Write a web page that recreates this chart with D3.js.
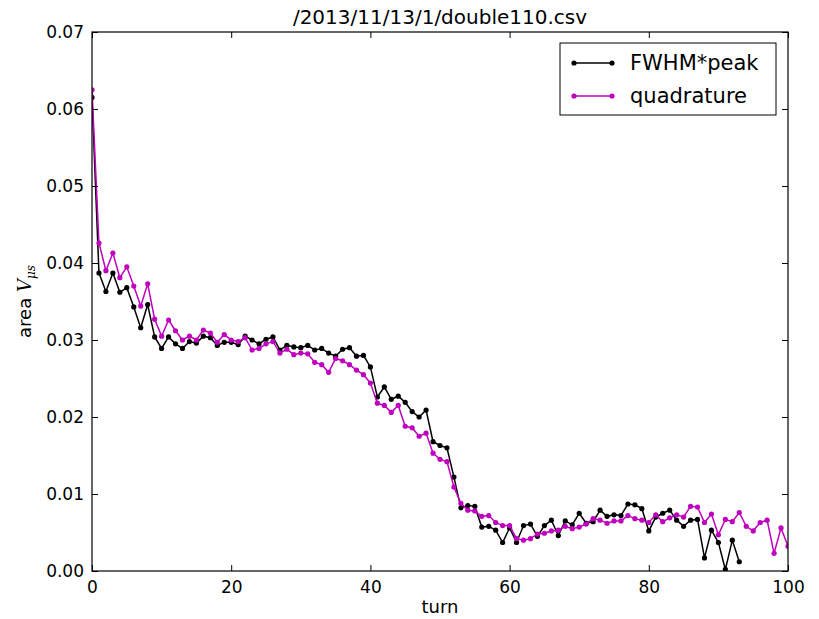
<!DOCTYPE html>
<html>
  <head>
    <meta charset="utf-8" />
    <script src="https://cdn.jsdelivr.net/npm/d3@7/dist/d3.min.js"></script>
    <style>
      body { margin: 0; background: white; }
      svg text { font-family: "DejaVu Sans", sans-serif; fill: black; }
    </style>
  </head>
  <body>
    <svg id="chart"></svg>
    <script>
      // values
      const title = "/2013/11/13/1/double110.csv";
      const xTicks = [0, 20, 40, 60, 80, 100];
      const yTicks = [0, 0.01, 0.02, 0.03, 0.04, 0.05, 0.06, 0.07];
      const seriesNames = ["FWHM*peak", "quadrature"];

      const fwhmPeak = [
        0.0615, 0.0387, 0.0363, 0.0387, 0.0362, 0.0368, 0.0343, 0.0316, 0.0346, 0.0304,
        0.0289, 0.0304, 0.0295, 0.0289, 0.0298, 0.0296, 0.0305, 0.0303, 0.0293, 0.0297,
        0.0297, 0.0294, 0.0305, 0.0300, 0.0295, 0.0301, 0.0304, 0.0287, 0.0293, 0.0291,
        0.0290, 0.0293, 0.0287, 0.0289, 0.0283, 0.0279, 0.0288, 0.0290, 0.0279, 0.0280,
        0.0265, 0.0226, 0.0239, 0.0223, 0.0227, 0.0219, 0.0207, 0.0200, 0.0209, 0.0168,
        0.0163, 0.0160, 0.0122, 0.0082, 0.0085, 0.0084, 0.0057, 0.0058, 0.0053, 0.0037,
        0.0056, 0.0037, 0.0059, 0.0061, 0.0045, 0.0059, 0.0066, 0.0046, 0.0065, 0.0060,
        0.0075, 0.0062, 0.0064, 0.0079, 0.0071, 0.0073, 0.0072, 0.0087, 0.0086, 0.0081,
        0.0052, 0.0070, 0.0075, 0.0079, 0.0066, 0.0058, 0.0066, 0.0067, 0.0017, 0.0053,
        0.0037, 0.0002, 0.0040, 0.0012
      ];

      const quadrature = [
        0.0625, 0.0426, 0.0390, 0.0413, 0.0381, 0.0395, 0.0370, 0.0344, 0.0373, 0.0327,
        0.0305, 0.0326, 0.0312, 0.0300, 0.0305, 0.0300, 0.0313, 0.0309, 0.0297, 0.0307,
        0.0300, 0.0298, 0.0303, 0.0287, 0.0289, 0.0295, 0.0298, 0.0283, 0.0288, 0.0281,
        0.0283, 0.0282, 0.0271, 0.0268, 0.0258, 0.0276, 0.0273, 0.0268, 0.0261, 0.0255,
        0.0244, 0.0218, 0.0215, 0.0206, 0.0215, 0.0188, 0.0186, 0.0175, 0.0179, 0.0153,
        0.0145, 0.0142, 0.0109, 0.0088, 0.0079, 0.0078, 0.0071, 0.0072, 0.0063, 0.0059,
        0.0059, 0.0042, 0.0040, 0.0042, 0.0048, 0.0049, 0.0052, 0.0053, 0.0058, 0.0055,
        0.0057, 0.0061, 0.0068, 0.0066, 0.0062, 0.0065, 0.0065, 0.0072, 0.0068, 0.0066,
        0.0063, 0.0073, 0.0064, 0.0069, 0.0073, 0.0070, 0.0084, 0.0083, 0.0063, 0.0074,
        0.0047, 0.0067, 0.0064, 0.0076, 0.0058, 0.0052, 0.0063, 0.0066, 0.0023, 0.0056,
        0.0032
      ];

      const colors = ["#000000", "#bf00bf"];

      const width = 819, height = 619;
      const plot = { left: 92, right: 788, top: 32, bottom: 571 };

      const svg = d3.select("#chart").attr("width", width).attr("height", height);

      const x = d3.scaleLinear().domain([0, 100]).range([plot.left, plot.right]);
      const y = d3.scaleLinear().domain([0, 0.07]).range([plot.bottom, plot.top]);

      // clip so the lines stay inside the axes
      svg.append("clipPath").attr("id", "clip")
        .append("rect")
        .attr("x", plot.left).attr("y", plot.top)
        .attr("width", plot.right - plot.left)
        .attr("height", plot.bottom - plot.top);

      const line = d3.line().x((d, i) => x(i)).y(d => y(d));

      [fwhmPeak, quadrature].forEach((data, k) => {
        const g = svg.append("g").attr("clip-path", "url(#clip)");
        g.append("path")
          .datum(data)
          .attr("d", line)
          .attr("fill", "none")
          .attr("stroke", colors[k])
          .attr("stroke-width", 1.5);
        g.selectAll("circle")
          .data(data)
          .enter()
          .append("circle")
          .attr("cx", (d, i) => x(i))
          .attr("cy", d => y(d))
          .attr("r", 2.6)
          .attr("fill", colors[k]);
      });

      // axes, ticks pointing in, on all four sides
      const xAxisBottom = d3.axisBottom(x).tickValues(xTicks).tickSizeInner(-6).tickSizeOuter(0).tickPadding(10);
      const xAxisTop = d3.axisTop(x).tickValues(xTicks).tickSizeInner(-6).tickSizeOuter(0).tickFormat("");
      const yAxisLeft = d3.axisLeft(y).tickValues(yTicks).tickSizeInner(-6).tickSizeOuter(0)
        .tickPadding(8).tickFormat(d3.format(".2f"));
      const yAxisRight = d3.axisRight(y).tickValues(yTicks).tickSizeInner(-6).tickSizeOuter(0).tickFormat("");

      const axes = [
        svg.append("g").attr("transform", `translate(0,${plot.bottom})`).call(xAxisBottom),
        svg.append("g").attr("transform", `translate(0,${plot.top})`).call(xAxisTop),
        svg.append("g").attr("transform", `translate(${plot.left},0)`).call(yAxisLeft),
        svg.append("g").attr("transform", `translate(${plot.right},0)`).call(yAxisRight)
      ];
      axes.forEach(a => {
        a.select(".domain").remove();
        a.selectAll(".tick line").attr("stroke", "black").attr("stroke-width", 1);
        a.selectAll(".tick text")
          .style("font-family", "DejaVu Sans, sans-serif")
          .style("font-size", "17px")
          .attr("fill", "black");
      });

      svg.append("rect")
        .attr("x", plot.left).attr("y", plot.top)
        .attr("width", plot.right - plot.left)
        .attr("height", plot.bottom - plot.top)
        .attr("fill", "none")
        .attr("stroke", "black")
        .attr("stroke-width", 1.2);

      svg.append("text")
        .attr("x", (plot.left + plot.right) / 2)
        .attr("y", 24)
        .attr("text-anchor", "middle")
        .style("font-size", "20px")
        .text(title);

      svg.append("text")
        .attr("x", (plot.left + plot.right) / 2)
        .attr("y", 613)
        .attr("text-anchor", "middle")
        .style("font-size", "18px")
        .text("turn");

      const yl = svg.append("text")
        .attr("transform", `translate(31,${(plot.top + plot.bottom) / 2}) rotate(-90)`)
        .attr("text-anchor", "middle")
        .style("font-size", "18px");
      yl.append("tspan").text("area ");
      yl.append("tspan").style("font-style", "italic").style("font-family", "DejaVu Serif, serif").text("V");
      yl.append("tspan").attr("dy", 4).style("font-size", "12px").style("font-style", "italic")
        .style("font-family", "DejaVu Serif, serif").text("μs");

      // legend
      const legend = svg.append("g").attr("transform", "translate(560,43)");
      legend.append("rect")
        .attr("width", 216).attr("height", 72)
        .attr("fill", "white").attr("stroke", "black").attr("stroke-width", 1);

      seriesNames.forEach((name, k) => {
        const yy = 20 + k * 33;
        const row = legend.append("g");
        row.append("line")
          .attr("x1", 14).attr("x2", 52).attr("y1", yy).attr("y2", yy)
          .attr("stroke", colors[k]).attr("stroke-width", 1.5);
        [14, 52].forEach(cx => row.append("circle")
          .attr("cx", cx).attr("cy", yy).attr("r", 2.6).attr("fill", colors[k]));
        row.append("text")
          .attr("x", 70).attr("y", yy + 7)
          .style("font-size", "21px")
          .text(name);
      });
    </script>
  </body>
</html>
